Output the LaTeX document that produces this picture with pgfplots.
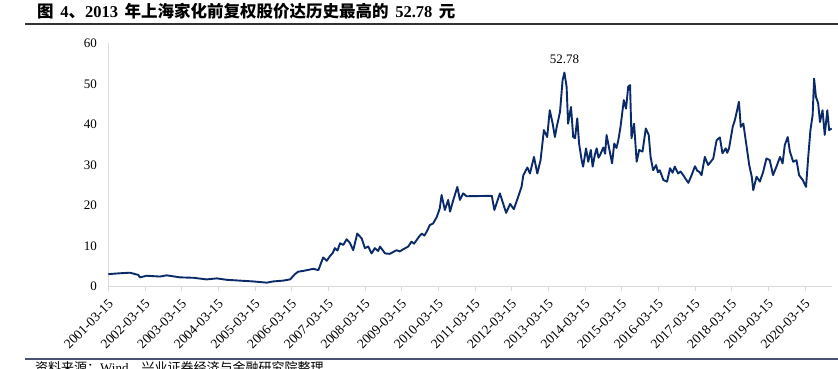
\documentclass[border=0pt]{standalone}
\usepackage{pgfplots}
\pgfplotsset{compat=1.18}
\usepackage{fontspec}
\setmainfont{Liberation Serif}
\newfontfamily\cjk{Noto Sans CJK SC}
\definecolor{navy}{HTML}{0B2A6A}
\definecolor{axgray}{HTML}{D9D9D9}
\definecolor{rulecol}{HTML}{4B4F74}
\begin{document}
\begin{tikzpicture}[x=1pt,y=1pt]
\useasboundingbox (0,0) rectangle (838,369);
\node[anchor=base west, inner sep=0pt, font=\bfseries\fontsize{16.5}{18}\selectfont] at (37,351)
 {{\cjk 图}\hspace{0.4em}4{\cjk 、}2013\hspace{0.4em}{\cjk 年上海家化前复权股价达历史最高的}\hspace{0.4em}52.78\hspace{0.4em}{\cjk 元}};
\draw[line width=1.6pt, color=black!80] (25,345) -- (838,345);
\draw[line width=1.8pt, color=rulecol] (25,10) -- (838,10);
\node[anchor=base west, inner sep=0pt, font=\fontsize{13}{15}\selectfont] at (35,-4)
 {{\cjk 资料来源：}Wind{\cjk ，兴业证券经济与金融研究院整理}};
\begin{axis}[
  at={(108.3pt,82.3pt)}, anchor=south west,
  scale only axis, width=723.4pt, height=243.4pt,
  xmin=0, xmax=19.73, ymin=0, ymax=60,
  axis x line=bottom, axis y line=left,
  axis line style={-, draw=axgray, line width=0.8pt},
  xtick={0,1,...,19},
  xticklabels={2001-03-15,2002-03-15,2003-03-15,2004-03-15,2005-03-15,2006-03-15,2007-03-15,2008-03-15,2009-03-15,2010-03-15,2011-03-15,2012-03-15,2013-03-15,2014-03-15,2015-03-15,2016-03-15,2017-03-15,2018-03-15,2019-03-15,2020-03-15},
  xtick align=outside, major tick length=4pt,
  xtick style={draw=axgray, line width=0.8pt},
  ytick={0,10,...,60},
  ytick style={draw=none},
  ticklabel style={font=\fontsize{13}{15}\selectfont, text=black},
  xticklabel style={font=\fontsize{13.5}{15}\selectfont, rotate=45, anchor=north east, inner sep=1pt, xshift=-5pt, yshift=-4pt},
  yticklabel style={xshift=-6pt},
  /pgf/number format/assume math mode=true,
  clip=false,
]
\addplot[color=navy, line width=1.9pt, line join=round] table {
0.00 3.1
0.30 3.3
0.59 3.45
0.82 2.9
0.86 2.3
1.05 2.7
1.41 2.5
1.59 2.8
1.96 2.3
2.32 2.2
2.68 1.8
2.96 2.05
3.23 1.7
3.59 1.5
3.95 1.3
4.32 1.0
4.50 1.3
4.77 1.5
4.96 1.8
5.09 3.1
5.18 3.7
5.32 3.9
5.59 4.4
5.73 4.1
5.86 7.2
5.96 6.4
6.05 7.6
6.12 8.3
6.18 9.5
6.25 8.9
6.32 10.7
6.41 10.3
6.50 11.7
6.59 10.8
6.68 9.0
6.79 13.1
6.91 11.9
7.00 9.5
7.09 9.9
7.18 8.2
7.27 9.5
7.36 8.8
7.41 9.9
7.55 8.2
7.68 8.1
7.86 9.0
7.95 8.7
8.04 9.2
8.18 9.9
8.27 11.1
8.34 10.6
8.41 11.5
8.48 12.4
8.55 13.1
8.62 12.6
8.68 13.5
8.77 15.2
8.86 15.6
8.96 17.2
9.04 19.3
9.09 22.6
9.18 18.9
9.27 21.4
9.32 18.5
9.41 21.4
9.52 24.6
9.59 21.4
9.68 23.0
9.77 22.3
10.46 22.4
10.53 18.9
10.68 23.0
10.85 18.2
10.96 20.4
11.06 19.1
11.15 21.4
11.27 24.6
11.32 27.5
11.43 29.4
11.50 27.9
11.61 32.0
11.70 27.9
11.79 31.2
11.88 38.6
11.97 36.9
12.04 43.5
12.12 40.2
12.18 36.9
12.23 39.4
12.32 43.1
12.39 50.9
12.44 52.78
12.50 49.3
12.54 40.2
12.62 44.3
12.68 36.9
12.73 36.6
12.79 41.5
12.84 35.3
12.91 31.2
12.95 29.6
13.03 34.1
13.09 30.8
13.16 33.7
13.21 29.6
13.27 32.5
13.32 34.1
13.37 31.8
13.41 32.4
13.50 34.3
13.55 32.8
13.59 37.4
13.66 34.1
13.74 30.4
13.80 35.3
13.86 34.2
13.91 36.1
13.97 39.4
14.06 46.0
14.12 43.9
14.18 49.3
14.23 49.7
14.27 36.6
14.34 40.2
14.41 30.8
14.48 33.7
14.57 33.3
14.66 39.0
14.74 37.4
14.79 32.0
14.86 28.7
14.94 30.0
14.99 28.2
15.04 28.7
15.14 26.3
15.24 25.9
15.32 29.2
15.39 28.1
15.45 29.6
15.54 27.9
15.61 28.4
15.68 27.5
15.76 26.4
15.82 25.6
15.91 27.5
16.00 29.7
16.06 28.6
16.12 28.3
16.18 27.5
16.27 32.0
16.36 30.0
16.44 30.9
16.50 31.6
16.59 36.1
16.68 36.8
16.75 32.9
16.84 34.1
16.88 33.0
16.93 34.1
17.03 39.4
17.09 41.1
17.14 43.1
17.20 45.6
17.25 39.4
17.32 40.2
17.41 34.5
17.48 30.0
17.55 27.1
17.59 23.8
17.68 27.1
17.77 25.9
17.86 28.3
17.95 31.6
18.04 31.2
18.13 27.5
18.24 30.0
18.32 32.0
18.39 30.4
18.45 34.9
18.53 36.9
18.59 33.3
18.68 30.8
18.77 31.2
18.84 27.5
18.94 26.3
19.03 24.6
19.09 32.0
19.15 38.6
19.21 42.3
19.25 51.3
19.30 46.8
19.36 45.2
19.41 40.6
19.48 43.5
19.54 37.4
19.61 43.5
19.66 38.6
19.73 39.0
};
\node[font=\fontsize{13}{15}\selectfont, anchor=south] at (axis cs:12.44,54.2) {52.78};
\end{axis}
\end{tikzpicture}
\end{document}
